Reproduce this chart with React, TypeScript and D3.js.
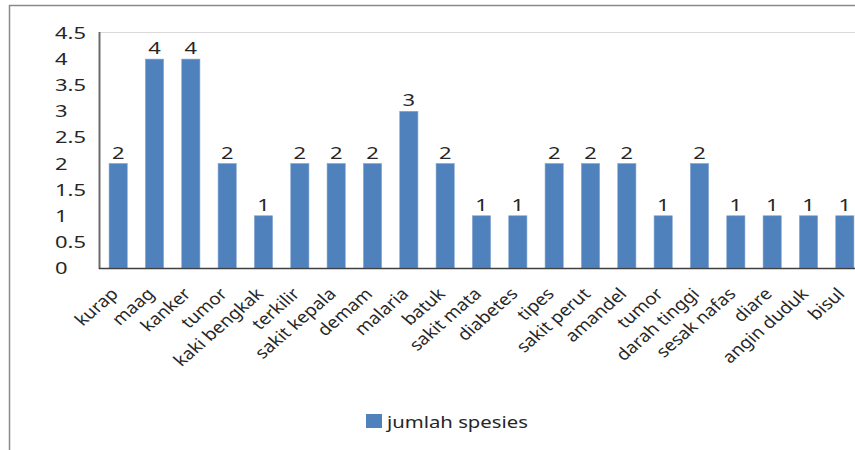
import React from "react";
import * as d3 from "d3";

const categories = [
  "kurap", "maag", "kanker", "tumor", "kaki bengkak", "terkilir", "sakit kepala",
  "demam", "malaria", "batuk", "sakit mata", "diabetes", "tipes", "sakit perut",
  "amandel", "tumor", "darah tinggi", "sesak nafas", "diare", "angin duduk", "bisul",
];
const values = [2, 4, 4, 2, 1, 2, 2, 2, 3, 2, 1, 1, 2, 2, 2, 1, 2, 1, 1, 1, 1];
const yTicks = [0, 0.5, 1, 1.5, 2, 2.5, 3, 3.5, 4, 4.5];
const seriesName = "jumlah spesies";

const W = 855;
const H = 450;
const FONT = "'Noto Sans', sans-serif";
const FS = 16.5;
const SX_NUM = 1.33;
const SX_LABEL = 1.15;
const SX_LEGEND = 1.23;
const TEXT = "#262626";
const BAR = "#4F81BD";

export default function App() {
  const x = d3
    .scaleBand<number>()
    .domain(d3.range(categories.length))
    .range([100, 863])
    .paddingInner(0.5)
    .paddingOuter(0.25);
  const y = d3.scaleLinear().domain([0, 4.5]).range([268, 33]);
  const bw = x.bandwidth();

  return (
    <svg
      width={W}
      height={H}
      style={{ position: "absolute", left: 0, top: 0, background: "#fff" }}
      fontFamily={FONT}
    >
      {/* outer chart border (cropped) */}
      <line x1={9.5} y1={5} x2={9.5} y2={H} stroke="#8a8a8a" strokeWidth={1.5} />
      <line x1={9} y1={5.5} x2={W} y2={5.5} stroke="#8a8a8a" strokeWidth={1.5} />

      {/* plot area top border */}
      <line x1={100} y1={32.5} x2={W} y2={32.5} stroke="#d9d9d9" strokeWidth={1} />

      {/* bars */}
      {values.map((v, i) => (
        <rect
          key={"b" + i}
          x={x(i)!}
          y={y(v)}
          width={bw}
          height={y(0) - y(v)}
          fill={BAR}
          stroke="#7fa3d1"
          strokeWidth={0.6}
        />
      ))}

      {/* data labels */}
      {values.map((v, i) => (
        <text
          key={"l" + i}
          transform={`translate(${x(i)! + bw / 2},${y(v) - 5}) scale(${SX_NUM},1)`}
          textAnchor="middle"
          fontSize={FS}
          fill={TEXT}
        >
          {v}
        </text>
      ))}

      {/* axes */}
      <line x1={99.5} y1={32} x2={99.5} y2={269} stroke="#6b6b6b" strokeWidth={2} />
      <line x1={99} y1={268.5} x2={W} y2={268.5} stroke="#404040" strokeWidth={1.5} />

      {/* y tick labels */}
      {yTicks.map((t) => (
        <text
          key={"y" + t}
          transform={`translate(55,${y(t) + 6}) scale(${SX_NUM},1)`}
          textAnchor="start"
          fontSize={FS}
          fill={TEXT}
        >
          {String(t)}
        </text>
      ))}

      {/* x labels */}
      {categories.map((c, i) => (
        <text
          key={"x" + i}
          transform={`translate(${x(i)! + bw / 2 + 1},${295}) scale(${SX_LABEL},1) rotate(-45)`}
          textAnchor="end"
          fontSize={FS}
          fill={TEXT}
        >
          {c}
        </text>
      ))}

      {/* legend */}
      <rect x={366} y={414} width={16} height={14} fill={BAR} />
      <text
        transform={`translate(387,428) scale(${SX_LEGEND},1)`}
        fontSize={FS}
        fill={TEXT}
      >
        {seriesName}
      </text>
    </svg>
  );
}
